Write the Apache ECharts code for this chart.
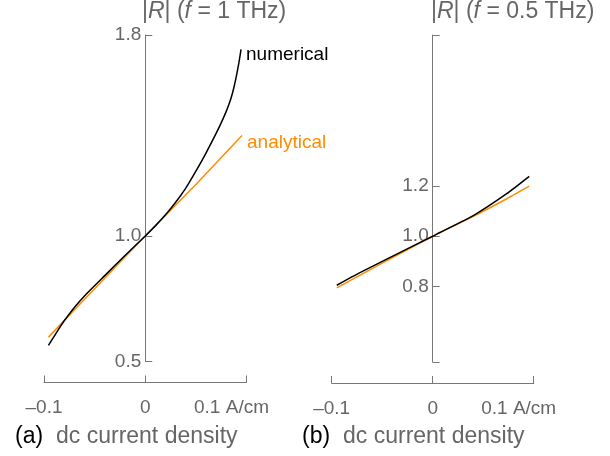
<!DOCTYPE html>
<html>
<head>
<meta charset="utf-8">
<script src="https://cdn.jsdelivr.net/npm/echarts@6/dist/echarts.min.js"></script>
<style>html,body{margin:0;padding:0;background:#fff}#c{width:610px;height:456px}</style>
</head>
<body>
<div id="c"></div>
<script>
// Panel (a): f = 1 THz
const numAx = [-0.0956, -0.09, -0.085, -0.08, -0.07, -0.06, -0.04, -0.02, 0, 0.01, 0.02, 0.025, 0.03, 0.035, 0.04, 0.05, 0.06, 0.07, 0.075, 0.08, 0.0825, 0.085, 0.0875, 0.09, 0.0925, 0.0946];
const numAy = [0.564, 0.600, 0.632, 0.662, 0.715, 0.761, 0.842, 0.922, 1.0, 1.040, 1.084, 1.108, 1.134, 1.161, 1.190, 1.258, 1.330, 1.408, 1.450, 1.496, 1.522, 1.552, 1.590, 1.636, 1.690, 1.743];
const anaAx = [-0.0956, -0.05, 0, 0.05, 0.0956];
const anaAy = [0.597, 0.79, 1.0, 1.205, 1.40];
// Panel (b): f = 0.5 THz
const numBx = [-0.095, -0.072, -0.0455, 0, 0.0072, 0.0402, 0.0733, 0.0956];
const numBy = [0.805, 0.855, 0.909, 1.0, 1.015, 1.082, 1.169, 1.238];
const anaBx = [-0.095, -0.0455, 0, 0.0402, 0.0733, 0.0956];
const anaBy = [0.795, 0.903, 1.0, 1.079, 1.149, 1.199];
// ticks
const xTicks = [-0.1, 0, 0.1];
const yTicksA = [0.5, 1.0, 1.8];
const yLabelsA = [0.5, 1.0, 1.8];
const yTicksB = [0.5, 0.8, 1.0, 1.2, 1.8];
const yLabelsB = [0.8, 1.0, 1.2];

const FONT = 'Liberation Sans, Arial, sans-serif';
const GRAY = '#666666';
const AXIS = '#777777';
const ORANGE = '#FF8C00';

function pairs(xs, ys) { return xs.map((x, i) => [x, ys[i]]); }

function xAxisCfg(gi) {
  return {
    type: 'value', gridIndex: gi, min: -0.1, max: 0.1,
    offset: 21,
    splitLine: { show: false },
    axisLine: { onZero: false, lineStyle: { color: AXIS, width: 1 } },
    axisTick: { inside: true, length: 7, customValues: xTicks, lineStyle: { color: AXIS } },
    axisLabel: {
      customValues: xTicks, margin: 16, color: GRAY, fontFamily: FONT, fontSize: 19,
      formatter: v => {
        if (Math.abs(v - 0.1) < 1e-9) return '{u|0.1 A/cm}';
        if (v < 0) return '\u2013' + Math.abs(v).toFixed(1);
        return '0';
      },
      rich: { u: { color: GRAY, fontFamily: FONT, fontSize: 19, padding: [0, 30, 0, 0] } }
    }
  };
}
function yAxisCfg(gi, ticks, labels, off) {
  return {
    type: 'value', gridIndex: gi, min: 0.5, max: 1.8,
    offset: off,
    splitLine: { show: false },
    axisLine: { onZero: false, lineStyle: { color: AXIS, width: 1 } },
    axisTick: { inside: true, length: 7, customValues: ticks, lineStyle: { color: AXIS } },
    axisLabel: {
      customValues: labels, margin: 4, color: GRAY, fontFamily: FONT, fontSize: 19,
      formatter: v => v.toFixed(1)
    }
  };
}

const richTitle = {
  g: { color: GRAY, fontFamily: FONT, fontSize: 23, fontWeight: 'normal' },
  i: { color: GRAY, fontFamily: FONT, fontSize: 23, fontStyle: 'italic', fontWeight: 'normal' },
  k: { color: '#000', fontFamily: FONT, fontSize: 23, fontWeight: 'normal' }
};
const tStyle = { fontWeight: 'normal', rich: richTitle };

const chart = echarts.init(document.getElementById('c'), null, { renderer: 'canvas' });
chart.setOption({
  animation: false,
  backgroundColor: '#fff',
  title: [
    { text: '{g||}{i|R}{g|| (}{i|f}{g| = 1 THz)}', left: 142, top: 0, padding: 0, textStyle: tStyle },
    { text: '{g||}{i|R}{g|| (}{i|f}{g| = 0.5 THz)}', left: 431, top: 0, padding: 0, textStyle: tStyle },
    { text: '{k|(a)}', left: 15, top: 425, padding: 0, textStyle: tStyle },
    { text: '{g|dc current density}', left: 56, top: 425, padding: 0, textStyle: tStyle },
    { text: '{k|(b)}', left: 302, top: 425, padding: 0, textStyle: tStyle },
    { text: '{g|dc current density}', left: 343, top: 425, padding: 0, textStyle: tStyle }
  ],
  grid: [
    { left: 44, width: 202.5, top: 35, height: 326.5 },
    { left: 331.7, width: 202, top: 35, height: 327 }
  ],
  xAxis: [xAxisCfg(0), xAxisCfg(1)],
  yAxis: [yAxisCfg(0, yTicksA, yLabelsA, -101.25), yAxisCfg(1, yTicksB, yLabelsB, -101)],
  series: [
    {
      type: 'line', xAxisIndex: 0, yAxisIndex: 0, data: pairs(anaAx, anaAy),
      showSymbol: false, smooth: 0.2, lineStyle: { color: ORANGE, width: 1.5 },
      endLabel: { show: true, formatter: 'analytical', color: ORANGE, fontFamily: FONT, fontSize: 19, distance: 5, offset: [0, 7] }
    },
    {
      type: 'line', xAxisIndex: 0, yAxisIndex: 0, data: pairs(numAx, numAy),
      showSymbol: false, smooth: 0.2, lineStyle: { color: '#000', width: 1.5 },
      endLabel: { show: true, formatter: 'numerical', color: '#000', fontFamily: FONT, fontSize: 19, distance: 5, offset: [0, 5] }
    },
    {
      type: 'line', xAxisIndex: 1, yAxisIndex: 1, data: pairs(anaBx, anaBy),
      showSymbol: false, smooth: 0.2, lineStyle: { color: ORANGE, width: 1.5 }
    },
    {
      type: 'line', xAxisIndex: 1, yAxisIndex: 1, data: pairs(numBx, numBy),
      showSymbol: false, smooth: 0.2, lineStyle: { color: '#000', width: 1.5 }
    }
  ]
});
</script>
</body>
</html>
